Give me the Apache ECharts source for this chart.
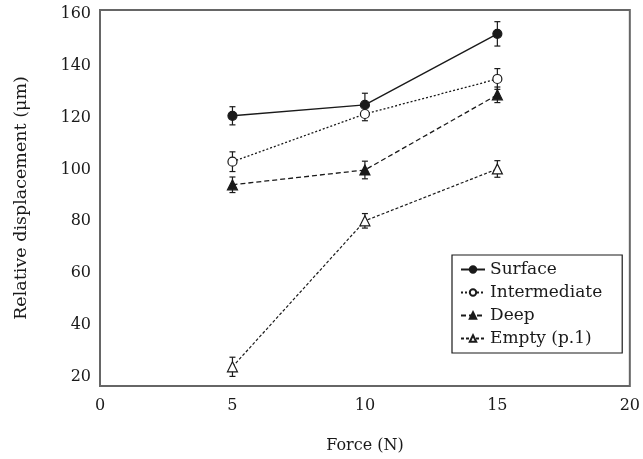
<!DOCTYPE html>
<html>
<head>
<meta charset="utf-8">
<script src="https://cdn.jsdelivr.net/npm/echarts@6/dist/echarts.min.js"></script>
<style>
  html, body { margin: 0; padding: 0; background: #fff; }
  #main { width: 643px; height: 459px; }
</style>
</head>
<body>
<div id="main"></div>
<script>
(function(){
    'use strict';

    // 数据
    var forces = [5, 10, 15];
    var seriesNames = ['Surface', 'Intermediate', 'Deep', 'Empty (p.1)'];
    var surface = [120.7, 124.9, 152.3];
    var intermediate = [103.0, 121.4, 134.9];
    var deep = [94.1, 99.8, 128.8];
    var empty = [23.9, 80.2, 100.2];
    // 误差
    var surfaceErr = [3.5, 4.5, 4.7];
    var intermediateErr = [3.8, 2.6, 4.0];
    var deepErr = [3.0, 3.4, 3.0];
    var emptyErr = [3.7, 2.8, 3.2];
    var yTicks = [20, 40, 60, 80, 100, 120, 140, 160];
    var xTicks = [0, 5, 10, 15, 20];

    var font = 'DejaVu Serif';
    var ink = '#1a1a1a';

    function pairs(vals) {
        return forces.map(function (f, i) { return [f, vals[i]]; });
    }
    function errPairs(vals, errs) {
        return forces.map(function (f, i) { return [f, vals[i] - errs[i], vals[i] + errs[i]]; });
    }

    function errorBar(vals, errs) {
        return {
            type: 'custom',
            silent: true,
            z: 3,
            renderItem: function (params, api) {
                var lo = api.coord([api.value(0), api.value(1)]);
                var hi = api.coord([api.value(0), api.value(2)]);
                var w = 3;
                var st = { stroke: ink, lineWidth: 1.2 };
                return {
                    type: 'group',
                    children: [
                        { type: 'line', shape: { x1: lo[0], y1: lo[1], x2: hi[0], y2: hi[1] }, style: st },
                        { type: 'line', shape: { x1: lo[0] - w, y1: lo[1], x2: lo[0] + w, y2: lo[1] }, style: st },
                        { type: 'line', shape: { x1: hi[0] - w, y1: hi[1], x2: hi[0] + w, y2: hi[1] }, style: st }
                    ]
                };
            },
            encode: { x: 0, y: [1, 2] },
            data: errPairs(vals, errs)
        };
    }

    function lineSeries(name, vals, symbol, fill, dash, width) {
        return {
            name: name,
            type: 'line',
            z: 4,
            data: pairs(vals),
            symbol: symbol,
            symbolSize: symbol === 'circle' ? 9 : 10,
            showAllSymbol: true,
            lineStyle: { color: ink, width: width, type: dash },
            itemStyle: { color: fill, borderColor: ink, borderWidth: 1.2 },
            emphasis: { disabled: true }
        };
    }

    var myChart = echarts.init(document.getElementById('main'));

    var option = {
        animation: false,
        backgroundColor: '#fff',
        textStyle: { fontFamily: font, color: ink },
        grid: {
            left: 100, right: 9, top: 10, bottom: 73,
            show: true, borderColor: '#666', borderWidth: 2
        },
        legend: {
            data: seriesNames,
            orient: 'vertical',
            left: 452,
            top: 255,
            itemWidth: 24,
            itemHeight: 8,
            itemGap: 6,
            padding: [6, 20, 6, 8],
            borderColor: ink,
            borderWidth: 1.2,
            backgroundColor: '#fff',
            textStyle: { fontFamily: font, fontSize: 17, color: ink }
        },
        xAxis: {
            type: 'value',
            min: 0,
            max: 20,
            interval: 5,
            name: 'Force (N)',
            nameLocation: 'middle',
            nameGap: 52,
            nameTextStyle: { fontFamily: font, fontSize: 16, color: ink },
            axisLine: { show: false },
            axisTick: { show: false },
            splitLine: { show: false },
            axisLabel: {
                customValues: xTicks,
                margin: 12,
                fontFamily: font, fontSize: 16, color: ink
            }
        },
        yAxis: {
            type: 'value',
            min: 16.5,
            max: 161.5,
            name: 'Relative displacement (\u03bcm)',
            nameLocation: 'middle',
            nameGap: 70,
            nameTextStyle: { fontFamily: font, fontSize: 17.5, color: ink },
            axisLine: { show: false },
            axisTick: { show: false },
            splitLine: { show: false },
            axisLabel: {
                customValues: yTicks,
                margin: 9,
                fontFamily: font, fontSize: 16, color: ink
            }
        },
        series: [
            errorBar(surface, surfaceErr),
            errorBar(intermediate, intermediateErr),
            errorBar(deep, deepErr),
            errorBar(empty, emptyErr),
            lineSeries('Surface', surface, 'circle', ink, 'solid', 1.4),
            lineSeries('Intermediate', intermediate, 'circle', '#fff', [2, 2], 1.3),
            lineSeries('Deep', deep, 'triangle', ink, [5, 3], 1.3),
            lineSeries('Empty (p.1)', empty, 'triangle', '#fff', [3, 2], 1.2)
        ]
    };

    myChart.setOption(option);
}());
</script>
</body>
</html>
